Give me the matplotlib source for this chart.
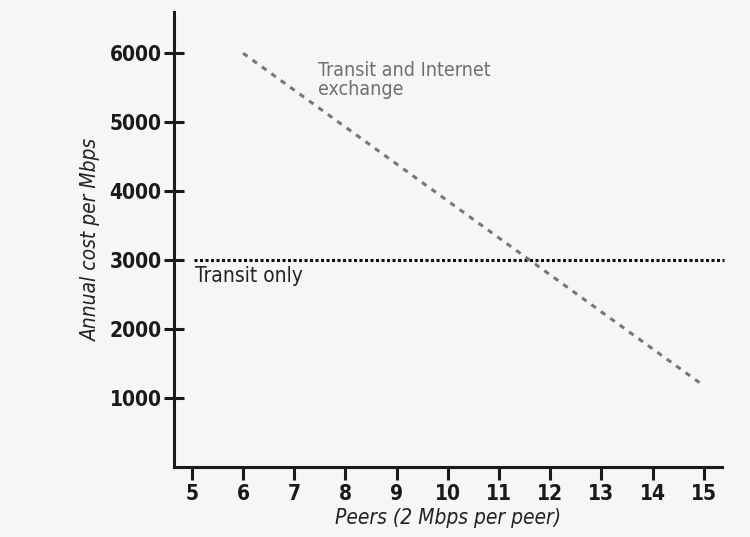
import matplotlib
matplotlib.use("Agg")
import matplotlib.pyplot as plt

# chart values
peers_ticks = [5, 6, 7, 8, 9, 10, 11, 12, 13, 14, 15]
cost_ticks = [1000, 2000, 3000, 4000, 5000, 6000]

transit_peers = [5.05, 15.4]
transit_cost = [3000, 3000]

ix_peers = [6, 15]
ix_cost = [6000, 1180]

FONT = ["Liberation Sans Narrow", "DejaVu Sans"]
plt.rcParams["font.family"] = FONT
plt.rcParams["font.stretch"] = "condensed"

fig = plt.figure(figsize=(7.5, 5.37), dpi=100)
fig.patch.set_facecolor("#f6f6f6")
ax = fig.add_axes([0.232, 0.130, 0.731, 0.848])
ax.set_facecolor("none")

ax.plot(transit_peers, transit_cost, color="#111111", lw=2.2,
        linestyle=(0, (1, 0.8)), clip_on=False)
ax.plot(ix_peers, ix_cost, color="#777777", lw=2.2,
        linestyle=(0, (1.8, 2.0)), clip_on=False)

ax.text(5.06, 2920, "Transit only", fontsize=15, color="#222222",
        va="top", ha="left")
ax.text(7.46, 5880, "Transit and Internet\nexchange", fontsize=14,
        color="#707070", va="top", ha="left", linespacing=1.0)

ax.set_xlim(4.65, 15.36)
ax.set_ylim(0, 6600)
ax.set_xticks(peers_ticks)
ax.set_yticks(cost_ticks)

for s in ("top", "right"):
    ax.spines[s].set_visible(False)
for s in ("left", "bottom"):
    ax.spines[s].set_linewidth(2.2)
    ax.spines[s].set_color("#1a1a1a")

ax.tick_params(axis="y", direction="inout", length=14, width=2.2,
               pad=2, labelsize=15, colors="#1a1a1a")
ax.tick_params(axis="x", direction="out", length=9, width=2.2,
               pad=3, labelsize=15, colors="#1a1a1a")
for lab in ax.get_xticklabels() + ax.get_yticklabels():
    lab.set_fontweight("bold")

ax.set_xlabel("Peers (2 Mbps per peer)", fontsize=15, style="italic",
              color="#222222", labelpad=3)
ax.set_ylabel("Annual cost per Mbps", fontsize=15, style="italic",
              color="#222222", labelpad=6)

fig.savefig("out.png", dpi=100, facecolor=fig.get_facecolor())
